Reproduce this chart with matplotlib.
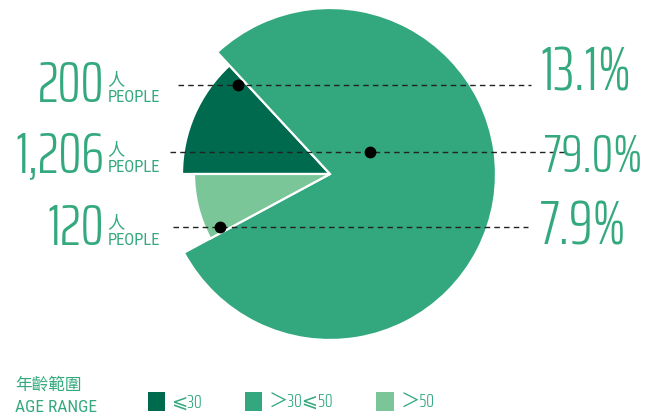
import matplotlib
matplotlib.use("Agg")
import matplotlib.pyplot as plt
from matplotlib.patches import Patch

# ---- data ----
categories = ["⩽30", "＞30⩽50", "＞50"]
counts = [200, 1206, 120]
count_labels = ["200", "1,206", "120"]
percent_labels = ["13.1%", "79.0%", "7.9%"]
colors = ["#006A4E", "#33A87E", "#7BC698"]
unit_cn = "人"
unit_en = "PEOPLE"
legend_title_cn = "年齡範圍"
legend_title_en = "AGE RANGE"

W, H = 649, 417
TXT = "#34A97E"
NUM = ["Saira ExtraCondensed", "DejaVu Sans", "Noto Sans CJK TC"]
COND = ["Roboto Condensed", "DejaVu Sans"]
CJK = ["Noto Sans CJK TC", "DejaVu Sans"]

fig = plt.figure(figsize=(W / 100, H / 100), dpi=100)
ax = fig.add_axes([0, 0, 1, 1])

cx, cy = 330, H - 174
wedges, _ = ax.pie(counts, colors=colors, startangle=180, counterclock=False,
                   center=(cx, cy), radius=148,
                   wedgeprops=dict(edgecolor="white", linewidth=1.6))
wedges[1].set_radius(166)
wedges[2].set_radius(136)
ax.set_xlim(0, W)
ax.set_ylim(0, H)
ax.set_aspect("equal")
ax.axis("off")

# label rows: (line y, line x0, line x1, dot x)
rows = [(85, 178, 531, 238), (152, 170, 566, 370), (227, 173, 528, 220)]
num_base = [102, 172, 245]
for i, (ly, x0, x1, dx) in enumerate(rows):
    ax.plot([x0, x1], [H - ly, H - ly], color="#222222", lw=1.0,
            ls=(0, (4.0, 3.0)), zorder=3)
    ax.plot([dx], [H - ly], "o", color="black", ms=7.5, zorder=4)
    b = H - num_base[i]
    ax.text(104, b, count_labels[i], ha="right", va="baseline", fontsize=42,
            color=TXT, family=NUM, weight=300)
    ax.text(107, b + 17, unit_cn, ha="left", va="baseline", fontsize=12.5,
            color=TXT, family=CJK)
    ax.text(108, b, unit_en, ha="left", va="baseline", fontsize=12,
            color=TXT, family=COND)

pct_x = [(540, "left"), (642, "right"), (540, "left")]
pct_base = [90, 172, 244]
pct_size = [44, 39, 44]
for i, (px, ha) in enumerate(pct_x):
    ax.text(px, H - pct_base[i], percent_labels[i], ha=ha, va="baseline",
            fontsize=pct_size[i], color=TXT, family=NUM, weight=300)

# legend titles
ax.text(15, H - 390, legend_title_cn, ha="left", va="baseline", fontsize=12,
        color=TXT, family=CJK)
ax.text(15, H - 412, legend_title_en, ha="left", va="baseline", fontsize=12.5,
        color=TXT, family=COND)

handles = [Patch(facecolor=c, edgecolor="none") for c in colors]
leg = ax.legend(handles, categories, loc="lower left",
                bbox_to_anchor=(146 / W, 3 / H), ncol=3, frameon=False,
                handlelength=0.88, handleheight=1.13, handletextpad=0.35,
                columnspacing=2.2, borderaxespad=0, borderpad=0.1,
                prop=dict(family=NUM, size=14, weight=300))
for t in leg.get_texts():
    t.set_color(TXT)

fig.savefig("out.png", dpi=100)
